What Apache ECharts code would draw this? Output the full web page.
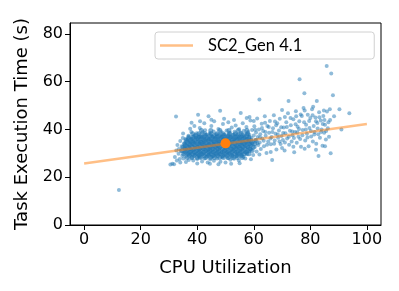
<!DOCTYPE html>
<html><head><meta charset="utf-8">
<script src="https://cdn.jsdelivr.net/npm/echarts@6/dist/echarts.min.js"></script>
<style>html,body{margin:0;padding:0;background:#fff}#c{width:399px;height:291px}</style>
</head><body><div id="c"></div>
<script>
var xTicks = [0, 20, 40, 60, 80, 100];
var yTicks = [0, 20, 40, 60, 80];
var seriesName = 'SC2_Gen 4.1';
var fitLine = [[0, 25.8], [100, 42.3]];
var meanPoint = [[50, 34.2]];
var tasks = [
[12.3,14.7],[32.5,45.4],[48.1,47.8],[40.3,46.2],[55.4,46.9],[44.0,45.5],
[30.5,25.3],[31.2,25.6],[31.8,25.4],[32.1,28.5],[32.6,31.2],[33.0,33.5],[33.4,29.8],[33.8,27.6],[34.0,35.2],[34.2,31.0],[34.5,33.0],[34.7,29.0],[34.9,36.4],
[35.1,27.8],[35.3,30.4],[35.5,32.2],[35.6,34.1],[35.8,36.0],[36.0,28.9],[36.2,31.5],[36.4,33.3],[36.5,35.5],[36.7,30.0],[36.9,37.4],[37.0,27.2],[37.2,32.8],[37.4,34.6],[37.5,29.4],[37.7,31.9],[37.9,36.2],[37.9,39.0],
[38.1,28.2],[38.2,30.6],[38.3,33.7],[38.5,35.1],[38.6,27.0],[38.8,31.4],[38.9,37.5],[39.1,29.3],[39.2,32.5],[39.4,34.4],[39.5,36.6],[39.7,30.1],[39.8,38.4],[40.0,27.6],[40.1,33.0],[40.2,35.8],[40.4,31.2],[40.5,29.0],[40.6,37.0],[40.8,34.2],[40.9,40.6],
[41.0,28.4],[41.1,32.1],[41.3,35.0],[41.4,30.3],[41.5,36.9],[41.7,26.6],[41.8,33.6],[41.9,38.8],[42.0,29.6],[42.2,31.7],[42.3,34.8],[42.4,36.3],[42.6,27.9],[42.7,32.9],[42.8,39.7],[43.0,30.8],[43.1,35.4],[43.2,37.8],[43.4,28.7],[43.5,33.4],[43.7,26.2],[43.8,31.3],
[44.0,36.0],[44.1,29.4],[44.2,34.0],[44.4,38.4],[44.5,32.0],[44.6,27.4],[44.8,35.5],[44.9,30.5],[45.0,41.5],[45.1,33.2],[45.3,28.6],[45.4,37.1],[45.5,31.4],[45.7,35.0],[45.8,39.2],[45.9,26.9],[46.0,33.8],[46.2,30.0],[46.3,36.5],[46.4,29.1],[46.6,32.6],[46.7,38.0],[46.9,34.9],
[47.0,27.8],[47.1,31.0],[47.3,36.2],[47.4,33.1],[47.5,40.2],[47.7,29.5],[47.8,35.0],[47.9,37.6],[48.0,31.9],[48.2,26.5],[48.3,34.3],[48.4,38.9],[48.6,30.4],[48.7,36.8],[48.8,28.4],[49.0,33.6],[49.1,42.3],[49.2,35.7],[49.4,31.1],[49.5,37.9],[49.7,29.2],[49.8,34.5],
[50.0,26.2],[50.1,32.2],[50.2,36.1],[50.4,39.6],[50.5,30.4],[50.6,34.0],[50.8,28.1],[50.9,37.3],[51.0,43.0],[51.2,32.9],[51.3,35.4],[51.4,30.0],[51.6,38.6],[51.7,27.3],[51.8,33.9],[52.0,36.7],[52.1,31.3],[52.2,40.8],[52.4,29.0],[52.5,34.8],[52.7,37.8],[52.8,32.0],
[53.0,27.7],[53.1,35.6],[53.2,39.1],[53.4,30.7],[53.5,33.4],[53.6,41.7],[53.8,36.3],[53.9,28.9],[54.0,32.4],[54.2,38.0],[54.3,34.6],[54.4,30.0],[54.6,36.9],[54.7,27.0],[54.8,40.2],[55.0,33.0],[55.1,35.8],[55.2,31.1],[55.4,38.7],[55.5,29.4],[55.7,34.2],[55.8,37.2],
[56.0,31.9],[56.1,42.6],[56.2,35.0],[56.4,28.6],[56.5,39.5],[56.7,33.3],[56.8,36.5],[57.0,30.4],[57.1,38.1],[57.3,34.4],[57.4,41.0],[57.6,29.6],[57.7,36.0],[57.9,32.6],[58.0,39.0],[58.2,35.2],[58.3,30.9],[58.5,37.7],[58.6,33.8],[58.8,43.8],
[59.0,31.5],[59.2,36.4],[59.4,39.8],[59.6,34.0],[59.8,29.3],[60.0,37.5],[60.2,41.4],[60.4,32.7],[60.6,35.6],[60.8,38.7],[61.0,30.8],[61.2,44.6],[61.4,36.9],[61.6,33.5],[61.8,40.0],[62.0,52.6],[62.1,34.6],[62.3,38.0],[62.5,31.8],[62.8,42.4],
[63.0,36.2],[63.3,39.4],[63.6,33.0],[63.9,45.5],[64.2,37.4],[64.5,30.2],[64.8,41.5],[65.1,35.0],[65.4,38.6],[65.7,43.6],[66.0,33.8],[66.3,36.9],[66.5,27.2],[66.8,40.5],[67.1,46.0],[67.4,35.4],[67.7,38.2],[68.0,31.6],[68.3,42.6],[68.6,36.5],[68.9,39.6],[69.2,44.5],[69.5,33.9],[69.8,37.3],[70.0,48.2],
[70.3,35.6],[70.6,40.8],[70.9,31.2],[71.2,38.4],[71.5,43.0],[71.8,36.2],[72.1,46.8],[72.3,51.9],[72.5,33.6],[72.8,39.5],[73.1,41.8],[73.4,35.0],[73.7,37.6],[74.0,44.3],[74.3,30.5],[74.6,39.0],[74.9,47.6],[75.2,34.4],[75.5,41.2],[75.8,37.0],[76.2,61.0],[76.1,43.5],[76.4,36.0],[76.7,32.8],[77.0,45.6],[77.3,39.8],[77.6,49.0],[77.9,55.2],[78.2,35.4],[78.5,42.0],[78.8,38.2],[79.1,46.2],[79.4,33.0],[79.7,40.6],[80.0,44.8],
[80.3,37.1],[80.6,48.5],[80.9,35.0],[81.2,41.5],[81.5,39.0],[81.8,45.0],[82.1,34.0],[82.3,51.9],[82.5,42.7],[82.9,28.9],[82.8,38.0],[83.1,47.2],[83.4,36.5],[83.7,43.8],[84.0,40.0],[84.3,33.2],[84.6,45.6],[84.9,38.6],[85.2,42.0],[85.5,35.8],[85.8,66.6],[85.9,47.5],[86.2,40.5],[86.6,37.0],[87.0,44.0],[87.2,30.0],[87.4,63.5],[88.0,54.3],[88.4,45.5],[90.3,48.5],[91.0,40.0],[93.8,46.8]
];
var coreTasks = [
[36.4,28.3],[38.1,28.3],[39.9,28.3],[41.2,28.3],[43.0,28.3],[44.7,28.3],[46.1,28.3],[47.9,28.3],[49.3,28.3],[51.0,28.3],[52.6,28.3],[54.2,28.3],[55.9,28.3],
[35.2,29.8],[36.9,29.8],[38.5,29.8],[40.2,29.8],[41.8,29.8],[43.5,29.8],[45.0,29.8],[46.8,29.8],[48.4,29.8],[50.1,29.8],[51.7,29.8],[53.3,29.8],[55.0,29.8],[56.7,29.8],[58.3,29.8],
[34.6,31.2],[36.3,31.2],[37.8,31.2],[39.6,31.2],[41.1,31.2],[42.9,31.2],[44.4,31.2],[46.2,31.2],[47.7,31.2],[49.5,31.2],[51.0,31.2],[52.8,31.2],[54.4,31.2],[56.0,31.2],[57.7,31.2],[59.4,31.2],
[35.0,32.6],[36.7,32.6],[38.3,32.6],[40.0,32.6],[41.6,32.6],[43.2,32.6],[44.9,32.6],[46.5,32.6],[48.1,32.6],[49.8,32.6],[51.4,32.6],[53.0,32.6],[54.7,32.6],[56.3,32.6],[58.0,32.6],[59.8,32.6],
[35.5,34.0],[37.2,34.0],[38.8,34.0],[40.5,34.0],[42.1,34.0],[43.7,34.0],[45.4,34.0],[47.0,34.0],[48.6,34.0],[50.3,34.0],[51.9,34.0],[53.5,34.0],[55.2,34.0],[56.8,34.0],[58.5,34.0],[60.3,34.0],
[36.1,35.4],[37.7,35.4],[39.3,35.4],[41.0,35.4],[42.6,35.4],[44.2,35.4],[45.9,35.4],[47.5,35.4],[49.1,35.4],[50.8,35.4],[52.4,35.4],[54.0,35.4],[55.7,35.4],[57.3,35.4],[59.0,35.4],[60.8,35.4],
[37.0,36.8],[38.6,36.8],[40.3,36.8],[41.9,36.8],[43.6,36.8],[45.2,36.8],[46.8,36.8],[48.5,36.8],[50.1,36.8],[51.7,36.8],[53.4,36.8],[55.0,36.8],[56.6,36.8],[58.3,36.8],
[38.4,38.2],[40.6,38.2],[42.7,38.2],[44.9,38.2],[47.0,38.2],[49.2,38.2],[51.3,38.2],[53.5,38.2],[55.6,38.2],[57.8,38.2],
[41.5,39.6],[44.8,39.6],[48.0,39.6],[51.2,39.6],[54.5,39.6],[57.6,39.6],
[37.2,29.1],[39.0,29.1],[40.7,29.1],[42.4,29.1],[44.0,29.1],[45.6,29.1],[47.3,29.1],[49.0,29.1],[50.6,29.1],[52.2,29.1],[53.9,29.1],[55.6,29.1],
[35.9,30.5],[37.6,30.5],[39.2,30.5],[40.9,30.5],[42.5,30.5],[44.2,30.5],[45.8,30.5],[47.5,30.5],[49.1,30.5],[50.8,30.5],[52.4,30.5],[54.1,30.5],[55.8,30.5],[57.4,30.5],
[35.7,31.9],[37.3,31.9],[39.0,31.9],[40.6,31.9],[42.2,31.9],[43.9,31.9],[45.5,31.9],[47.1,31.9],[48.8,31.9],[50.4,31.9],[52.1,31.9],[53.7,31.9],[55.3,31.9],[57.0,31.9],[58.7,31.9],
[35.8,33.3],[37.5,33.3],[39.1,33.3],[40.8,33.3],[42.4,33.3],[44.0,33.3],[45.7,33.3],[47.3,33.3],[48.9,33.3],[50.6,33.3],[52.2,33.3],[53.9,33.3],[55.5,33.3],[57.1,33.3],[58.9,33.3],
[36.4,34.7],[38.0,34.7],[39.7,34.7],[41.3,34.7],[42.9,34.7],[44.6,34.7],[46.2,34.7],[47.8,34.7],[49.5,34.7],[51.1,34.7],[52.7,34.7],[54.4,34.7],[56.0,34.7],[57.7,34.7],[59.4,34.7],
[37.0,36.1],[38.6,36.1],[40.2,36.1],[41.8,36.1],[43.5,36.1],[45.1,36.1],[46.7,36.1],[48.4,36.1],[50.0,36.1],[51.6,36.1],[53.2,36.1],[54.9,36.1],[56.5,36.1],[58.2,36.1],
[39.5,37.5],[41.2,37.5],[42.9,37.5],[44.5,37.5],[46.1,37.5],[47.8,37.5],[49.4,37.5],[51.0,37.5],[52.7,37.5],[54.3,37.5],[56.0,37.5],[57.6,37.5]
];
var wingTasks = [
[60.5,39.9],[61.3,34.2],[62.2,36.6],[62.9,40.6],[63.5,35.3],[64.1,38.9],[64.7,33.6],[65.3,41.0],[65.9,36.2],[66.6,39.0],[67.2,34.0],[67.9,41.8],[68.5,37.9],[69.1,35.0],[69.7,40.9],[70.4,38.5],[71.0,34.6],[71.7,41.0],[72.4,37.0],[73.0,44.8],[73.6,39.2],[74.2,36.4],[74.8,42.2],[75.4,38.8],[76.0,40.2],[76.6,46.3],[77.2,37.6],[77.8,43.0],[78.4,40.0],[79.0,36.6],[79.6,43.6],[80.2,39.4],[80.8,46.0],[81.4,37.9],[82.0,43.4],[82.6,40.4],[83.2,45.1],[83.8,38.9],[84.4,42.3],[85.0,44.0],[85.6,39.4],[86.4,43.0],[86.9,48.5],[84.8,48.0],[81.0,49.5],[78.0,48.0],[75.0,45.5],[71.0,45.2],[67.5,43.3],[64.0,42.8],[60.0,43.6],[58.5,45.2],[66.0,30.6],[70.0,32.2],[74.0,32.8],[78.0,31.9],[82.0,31.5],[85.2,33.0],[62.0,29.5],[57.0,27.8],
[32.8,27.0],[33.5,31.8],[34.0,26.2],[35.0,38.3],[36.0,26.4],[37.5,40.3],[39.0,41.5],[40.0,25.8],[42.5,42.6],[44.5,25.6],[46.0,43.4],[47.5,25.4],[49.5,44.5],[52.0,25.7],[53.0,44.0],[55.0,25.9],[57.5,44.8],[59.0,27.5],[45.0,44.1],[41.0,43.5],[38.0,42.8]
];

var sparseTasks = tasks.concat(wingTasks);
var chart = echarts.init(document.getElementById('c'), null, {renderer: 'canvas'});
var tickFont = {fontFamily: 'DejaVu Sans', fontSize: 16, color: '#000'};
chart.setOption({
  animation: false,
  grid: {left: 70, right: 18, top: 23, bottom: 66, show: true, borderColor: '#000', borderWidth: 1, backgroundColor: 'transparent'},
  legend: {
    data: [seriesName],
    left: 155, top: 32,
    padding: [5, 72, 5, 5],
    icon: 'rect', itemWidth: 33, itemHeight: 2.5,
    borderColor: '#d0d0d0', borderWidth: 1, borderRadius: 3, backgroundColor: '#fff',
    textStyle: {fontFamily: 'Lato', fontSize: 16.5, color: '#000', padding: [0, 0, 0, 10]}
  },
  xAxis: {
    type: 'value', min: -5, max: 105,
    name: 'CPU Utilization', nameLocation: 'middle', nameGap: 34,
    nameTextStyle: {fontFamily: 'DejaVu Sans', fontSize: 18, color: '#000'},
    axisLine: {show: true, onZero: false, lineStyle: {color: '#000'}},
    axisTick: {show: true, length: 5, lineStyle: {color: '#000'}, customValues: xTicks},
    axisLabel: Object.assign({customValues: xTicks, margin: 7}, tickFont),
    splitLine: {show: false}
  },
  yAxis: {
    type: 'value', min: 0, max: 84.6,
    name: 'Task Execution Time (s)', nameLocation: 'middle', nameGap: 38,
    nameTextStyle: {fontFamily: 'DejaVu Sans', fontSize: 18, color: '#000'},
    axisLine: {show: true, onZero: false, lineStyle: {color: '#000'}},
    axisTick: {show: true, length: 5, lineStyle: {color: '#000'}, customValues: yTicks},
    axisLabel: Object.assign({customValues: yTicks, margin: 7}, tickFont),
    splitLine: {show: false}
  },
  series: [
    {type: 'scatter', name: 'tasks', data: sparseTasks, symbolSize: 4, itemStyle: {color: '#1f77b4', opacity: 0.5}, z: 2},
    {type: 'scatter', name: 'core', data: coreTasks, symbolSize: 5, itemStyle: {color: '#1f77b4', opacity: 0.6}, z: 2},
    {type: 'line', name: seriesName, data: fitLine, showSymbol: false, symbol: 'none',
     lineStyle: {color: 'rgba(255,127,14,0.5)', width: 2.5}, itemStyle: {color: 'rgba(255,127,14,0.5)'}, z: 3},
    {type: 'scatter', name: 'mean', data: meanPoint, symbolSize: 10, itemStyle: {color: '#ff7f0e', opacity: 1}, z: 4}
  ]
});
</script></body></html>
